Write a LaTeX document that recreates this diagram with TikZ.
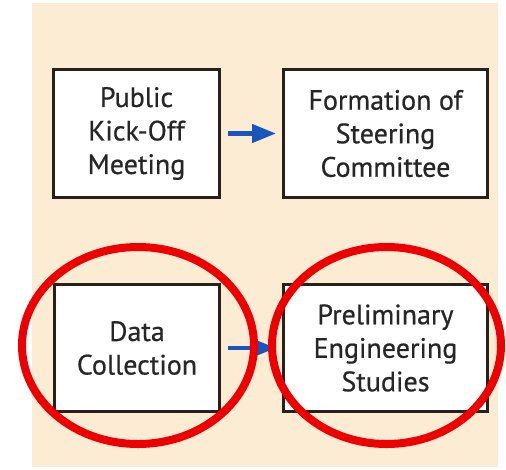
\documentclass[tikz,border=0pt]{standalone}
\usepackage{fontspec}
\setmainfont{PT Sans}[FakeBold=0.6]
\usetikzlibrary{arrows.meta}
\definecolor{beige}{RGB}{253,236,212}
\definecolor{boxline}{RGB}{40,32,26}
\definecolor{arrowblue}{RGB}{25,85,190}
\definecolor{markred}{RGB}{238,0,0}
\tikzset{
 stepbox/.style={draw=boxline,fill=white,line width=3pt,inner sep=0pt,
  align=center,font=\fontsize{28}{33.5}\selectfont,text=black!85},
 flow/.style={arrowblue,line width=4.5pt,-{Triangle[length=24pt,width=18pt]},
  shorten <=7pt,shorten >=6pt},
 redring/.style={markred,line width=8pt}
}
\begin{document}
\begin{tikzpicture}[x=1pt,y=-1pt]
 \useasboundingbox (0,0) rectangle (506,469); %全体
 \fill[white] (0,0) rectangle (506,469);
 \fill[beige] (32,3) rectangle (498,467); %背景
 \node[stepbox,minimum width=166pt,minimum height=128pt] (kickoff) at (136.5,133.5) {Public\\Kick-Off\\Meeting};
 \node[stepbox,minimum width=204pt,minimum height=128pt] (steering) at (385.5,133.5) {Formation of\\Steering\\Committee};
 \node[stepbox,minimum width=165pt,minimum height=127pt] (data) at (137,348) {Data\\Collection};
 \node[stepbox,minimum width=204pt,minimum height=127pt] (prelim) at (385.5,348) {Preliminary\\Engineering\\Studies};
 \draw[flow] (kickoff.east)--(steering.west); %矢印
 \draw[flow] (data.east)--(prelim.west);
 \draw[redring] (138,345.5) ellipse [x radius=116, y radius=98.5]; %赤丸
 \draw[redring] (386.5,345.5) ellipse [x radius=114.5, y radius=98.5];
\end{tikzpicture}
\end{document}
